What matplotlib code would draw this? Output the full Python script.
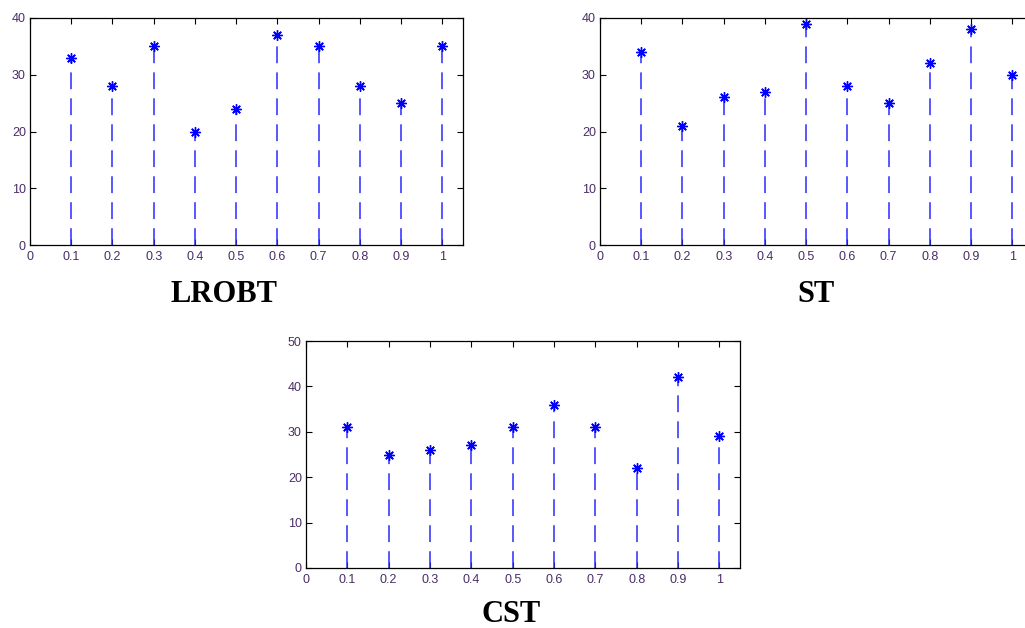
import matplotlib
matplotlib.use("Agg")
import matplotlib.pyplot as plt

x_vals = [0.1, 0.2, 0.3, 0.4, 0.5, 0.6, 0.7, 0.8, 0.9, 1.0]
lrobt = [33, 28, 35, 20, 24, 37, 35, 28, 25, 35]
st = [34, 21, 26, 27, 39, 28, 25, 32, 38, 30]
cst = [31, 25, 26, 27, 31, 36, 31, 22, 42, 29]
x_ticks = [0, 0.1, 0.2, 0.3, 0.4, 0.5, 0.6, 0.7, 0.8, 0.9, 1]
x_ticklabels = ["0", "0.1", "0.2", "0.3", "0.4", "0.5", "0.6", "0.7", "0.8", "0.9", "1"]
titles = ["LROBT", "ST", "CST"]

W, H = 1025, 628
fig = plt.figure(figsize=(W / 100, H / 100), dpi=100)

def px_axes(left, top, right, bottom):
    return fig.add_axes([left / W, 1 - bottom / H, (right - left) / W, (bottom - top) / H])

tick_color = "#4a2d66"

def draw(ax, vals, ymax, yticks, title, tx, ty):
    ml, sl, bl = ax.stem(x_vals, vals, basefmt=" ")
    plt.setp(sl, color="#2a2aff", linewidth=1.1, linestyle=(0, (11, 6)))
    plt.setp(ml, color="#0000ff", marker=(8, 2, 0), markersize=7.5, markeredgewidth=1.0)
    ax.set_xlim(0, 1.05)
    ax.set_ylim(0, ymax)
    ax.set_xticks(x_ticks)
    ax.set_xticklabels(x_ticklabels)
    ax.set_yticks(yticks)
    ax.tick_params(direction="in", top=True, right=True, length=4, width=0.8,
                   labelsize=9, labelcolor=tick_color)
    for lab in ax.get_xticklabels() + ax.get_yticklabels():
        lab.set_fontfamily("Liberation Sans")
    ax.tick_params(axis="x", pad=4)
    ax.tick_params(axis="y", pad=3)
    for s in ax.spines.values():
        s.set_linewidth(0.9)
        s.set_color("black")
    fig.text(tx / W, 1 - ty / H, title, ha="center", va="center",
             fontfamily="Liberation Serif", fontweight="bold", fontsize=22)

ax1 = px_axes(30, 18, 463, 245)
draw(ax1, lrobt, 40, [0, 10, 20, 30, 40], titles[0], 224, 294)
ax2 = px_axes(600, 18, 1033, 245)
draw(ax2, st, 40, [0, 10, 20, 30, 40], titles[1], 816, 294)
ax3 = px_axes(306, 341, 740, 568)
draw(ax3, cst, 50, [0, 10, 20, 30, 40, 50], titles[2], 511, 615)

fig.savefig("out.png", dpi=100)
